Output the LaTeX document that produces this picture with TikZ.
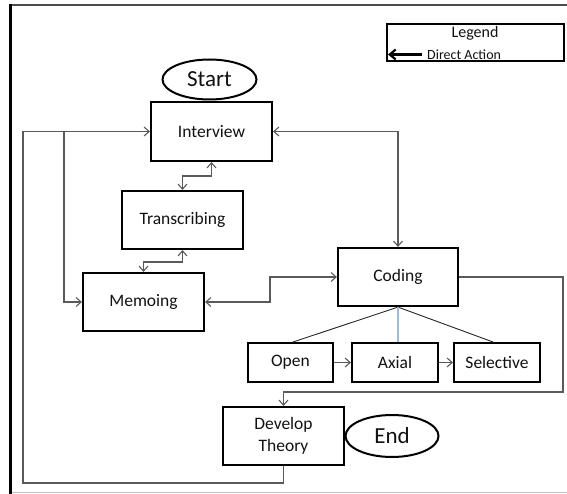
\documentclass[tikz,border=0pt]{standalone}
\usepackage{fontspec}
\setmainfont{Carlito}
\usetikzlibrary{arrows.meta,shapes.geometric}
\definecolor{txt}{HTML}{111111}
\definecolor{cgray}{HTML}{5A5A5A}
\definecolor{ablue}{HTML}{9DBBDB}
\begin{document}
\begin{tikzpicture}[x=1pt,y=-1pt,
  box/.style={draw=black,line width=2.2pt,inner sep=0pt,align=center,text=txt,
    font=\fontsize{17.5}{22}\selectfont},
  oval/.style={ellipse,draw=black,line width=2pt,inner sep=0pt,text=txt,
    font=\fontsize{23}{26}\selectfont},
  conn/.style={draw=cgray,line width=1.1pt,>={Straight Barb[length=5pt,width=9pt]}},
  frameline/.style={line width=1.5pt}
]
\useasboundingbox (0,0) rectangle (567,494);
% frame
\draw[frameline,draw=black!70] (10,5) -- (567,5);
\draw[frameline,draw=black!25] (12,492.5) -- (567,492.5);
\draw[line width=3pt,draw=black] (10.8,4.5) -- (10.8,494);

% nodes
\node[oval,minimum width=94,minimum height=40] (start) at (209.5,79.5) {Start};
\node[box,minimum width=121,minimum height=59] (int) at (211.5,131.5) {Interview};
\node[box,minimum width=121,minimum height=58] (tra) at (182.5,220) {Transcribing};
\node[box,minimum width=121,minimum height=58] (mem) at (143.5,302) {Memoing};
\node[box,minimum width=120,minimum height=58] (cod) at (398,277) {Coding};
\node[box,minimum width=85,minimum height=39] (open) at (290.5,362.5) {Open};
\node[box,minimum width=86,minimum height=39] (ax) at (395,362.5) {Axial};
\node[box,minimum width=86,minimum height=39] (sel) at (497,362.5) {Selective};
\node[box,minimum width=121,minimum height=58] (dev) at (283.5,436) {Develop\\Theory};
\node[oval,minimum width=93,minimum height=42] (end) at (392,436) {End};

% legend
\node[draw=black,line width=2pt,minimum width=177,minimum height=37,inner sep=0pt] (leg) at (475,43) {};
\node[text=txt,font=\fontsize{16}{18}\selectfont,inner sep=0pt] (legt) at (475,33) {Legend};
\node[text=txt,font=\fontsize{14}{16}\selectfont,inner sep=0pt,anchor=west] (legd) at (427,54.5) {Direct Action};
\coordinate (la1) at (422,54.5);
\coordinate (la2) at (388,54.5);
\draw[line width=2.2pt,-{Straight Barb[length=6pt,width=10pt]}] (la1) -- (la2);

% connectors
\coordinate (j1) at (64,131.5);
\draw[conn,->] (dev.south) |- (23,483) |- (int.west);
\draw[conn,->] (j1) |- (mem.west);
\draw[conn,<->] (int.east) -| (cod.north);
\draw[conn,<->] (int.south) |- (197,176) -| (tra.north);
\draw[conn,<->] (tra.south) |- (160,262) -| (mem.north);
\draw[conn,<->] (mem.east) -- (270,302) |- (cod.west);
\draw[line width=0.9pt,draw=black!85] (cod.south) -- (293,342);
\draw[line width=0.9pt,draw=black!85] (cod.south) -- (493,342);
\draw[line width=1.2pt,draw=ablue] (cod.south) -- (cod.south |- ax.north);
\draw[conn,->] (open.east) -- (ax.west);
\draw[conn,->] (ax.east) -- (sel.west);
\draw[conn,->] (cod.east) -| (563,392) -| (dev.north);
\end{tikzpicture}
\end{document}
